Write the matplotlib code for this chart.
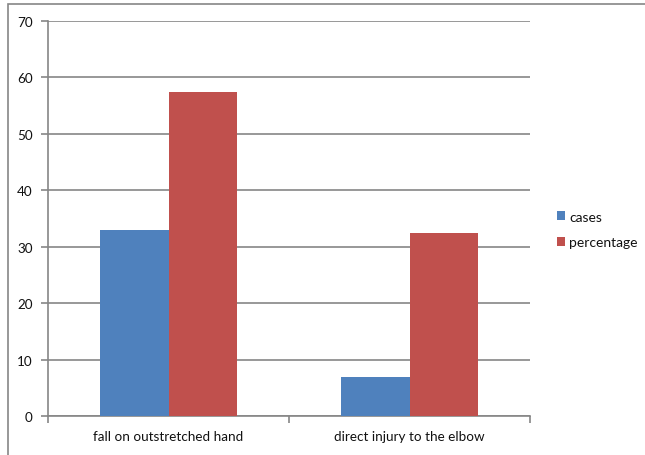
import matplotlib
matplotlib.use("Agg")
import matplotlib.pyplot as plt
from matplotlib.patches import Rectangle
import numpy as np

categories = ["fall on outstretched hand", "direct injury to the elbow"]
cases = [33, 7]
percentage = [57.5, 32.5]
series_names = ["cases", "percentage"]
y_ticks = [0, 10, 20, 30, 40, 50, 60, 70]

BLUE = "#4F81BD"
RED = "#C0504D"
GRID = "#868686"

plt.rcParams["font.family"] = ["Lato", "DejaVu Sans"]

W, H = 645, 456
fig = plt.figure(figsize=(W / 100, H / 100), dpi=100)

# outer chart-area border (right and bottom edges run off the canvas)
fig.patches.append(Rectangle((8 / W, -0.1), 1.2, 1 - 5 / H + 0.1,
                             transform=fig.transFigure, fill=False,
                             edgecolor=GRID, linewidth=1.2))

ax = fig.add_axes([48 / W, 1 - 417 / H, (530 - 48) / W, (417 - 22) / H])

x = np.arange(len(categories))
bw = 0.284
ax.bar(x - bw / 2, cases, bw, color=BLUE, label=series_names[0], zorder=3)
ax.bar(x + bw / 2, percentage, bw, color=RED, label=series_names[1], zorder=3)

ax.set_xlim(-0.5, len(categories) - 0.5)
ax.set_ylim(0, 70)
ax.set_yticks(y_ticks)
ax.yaxis.grid(True, color=GRID, linewidth=1.2, zorder=0)
ax.set_axisbelow(True)

for side in ("top", "right"):
    ax.spines[side].set_visible(False)
for side in ("left", "bottom"):
    ax.spines[side].set_color(GRID)
    ax.spines[side].set_linewidth(1.2)

ax.set_xticks(x)
ax.set_xticklabels(categories, fontsize=9.7, color="#111111")
ax.tick_params(axis="x", length=0, pad=10)
ax.set_xticks([-0.5, 0.5, 1.5], minor=True)
ax.tick_params(axis="x", which="minor", length=5, color=GRID, width=1.2)
ax.tick_params(axis="y", length=5, color=GRID, width=1.2, pad=6,
               labelsize=9.7, labelcolor="#111111")

fig.legend(loc="upper left", bbox_to_anchor=(551 / W, 1 - 206 / H),
           frameon=False, fontsize=10, handlelength=0.6, handleheight=0.6,
           handletextpad=0.3, labelspacing=1.0, borderaxespad=0,
           labelcolor="#111111")

fig.savefig("out.png", dpi=100)
